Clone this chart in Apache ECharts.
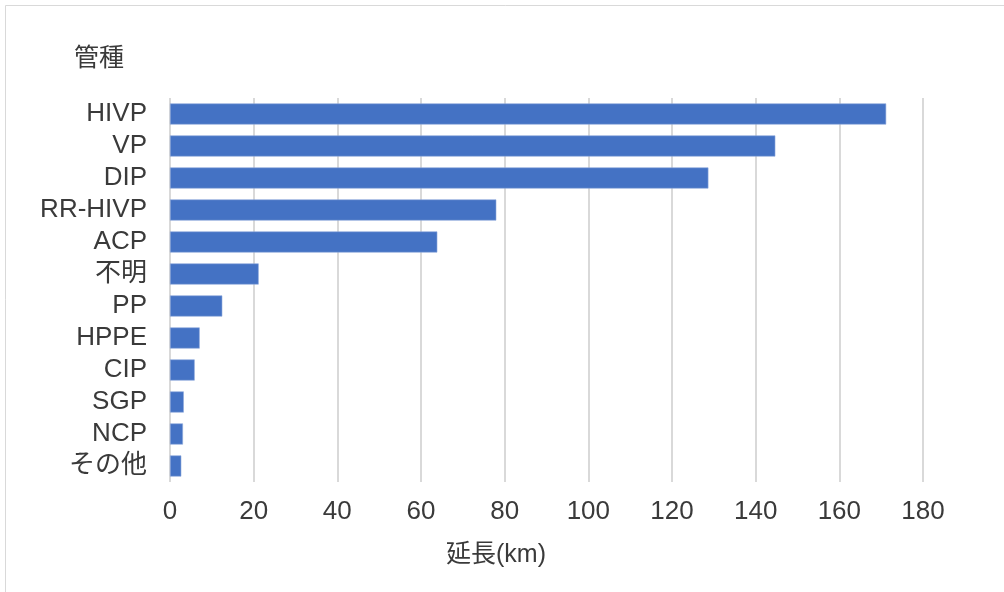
<!DOCTYPE html>
<html><head><meta charset="utf-8">
<script src="https://cdn.jsdelivr.net/npm/echarts@6/dist/echarts.min.js"></script>
<style>html,body{margin:0;padding:0;background:#fff}#c{width:1004px;height:592px}</style>
</head><body><div id="c"></div>
<script>
const categories = ['HIVP','VP','DIP','RR-HIVP','ACP','不明','PP','HPPE','CIP','SGP','NCP','その他'];
const lengths = [171.2,144.7,128.7,78.0,63.9,21.2,12.5,7.1,5.9,3.3,3.1,2.7];
const yTitle = '管種';
const xTitle = '延長(km)';
const FONT = '"Liberation Sans", "Noto Sans CJK JP", sans-serif';
const TXT = '#3a3a3a';
const chart = echarts.init(document.getElementById('c'));
chart.setOption({
  animation:false,
  backgroundColor:'#fff',
  grid:{left:170,right:81,top:98,height:384,containLabel:false},
  xAxis:{type:'value',min:0,max:180,interval:20,
    axisLine:{show:false},axisTick:{show:false},
    splitLine:{show:true,lineStyle:{color:'#d9d9d9',width:2}},
    axisLabel:{color:TXT,fontSize:26,fontFamily:FONT,margin:17}},
  yAxis:{type:'category',data:categories,inverse:true,
    axisLine:{show:false},axisTick:{show:false},
    axisLabel:{color:TXT,fontSize:26,fontFamily:FONT,margin:23,interval:0,padding:[5,0,0,0]}},
  series:[{type:'bar',data:lengths,barCategoryGap:'34%',
    itemStyle:{color:'#4472C4',borderColor:'#8eaadb',borderWidth:0.6}}],
  graphic:[
    {type:'rect',shape:{x:5.5,y:5.5,width:1010,height:600},style:{fill:'none',stroke:'#d9d9d9',lineWidth:1}},
    {type:'text',left:74,top:47,style:{text:yTitle,fontSize:25,fontFamily:FONT,fill:TXT}},
    {type:'text',left:446,top:543,style:{text:xTitle,fontSize:25,fontFamily:FONT,fill:TXT}}
  ]
});
</script></body></html>
